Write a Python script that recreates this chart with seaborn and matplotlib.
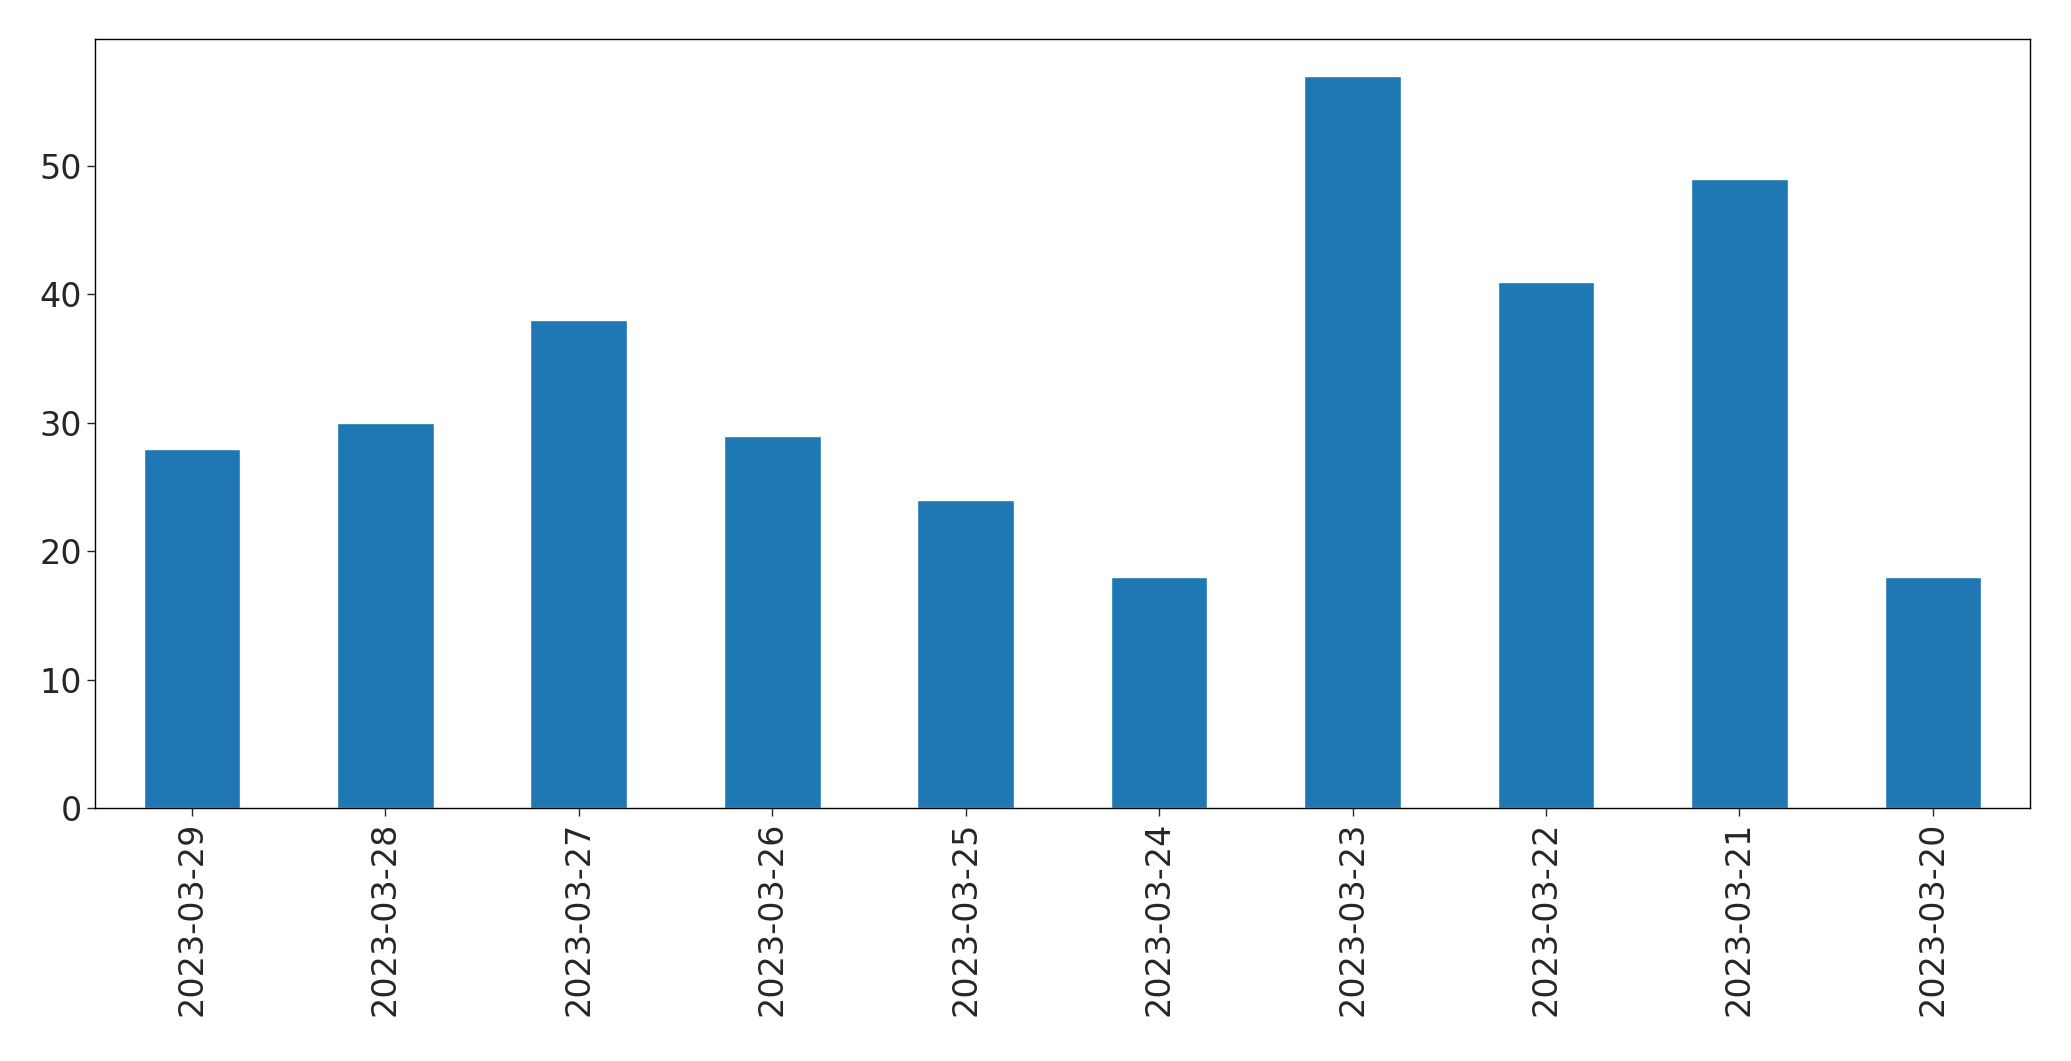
import matplotlib
matplotlib.use('Agg')
import matplotlib.pyplot as plt
import seaborn as sns
import pandas as pd

dates = ['2023-03-29', '2023-03-28', '2023-03-27', '2023-03-26', '2023-03-25',
         '2023-03-24', '2023-03-23', '2023-03-22', '2023-03-21', '2023-03-20']
counts = [28, 30, 38, 29, 24, 18, 57, 41, 49, 18]

df = pd.DataFrame({'date': dates, 'count': counts})

sns.set_style('white')
plt.rcParams['font.family'] = ['DejaVu Sans']

fig = plt.figure(figsize=(20.71, 10.61), dpi=100)
ax = fig.add_axes([0.046, 0.238, 0.934, 0.725])
sns.barplot(data=df, x='date', y='count', color='#1f77b4', saturation=1, width=0.5, ax=ax)
ax.set_xlabel('')
ax.set_ylabel('')
ax.tick_params(axis='both', labelsize=24, length=6, width=1, bottom=True, left=True)
ax.tick_params(axis='x', rotation=90)
for s in ax.spines.values():
    s.set_color('black')
    s.set_linewidth(1)
ax.set_xlim(-0.5, len(dates) - 0.5)

fig.savefig('out.png', dpi=100)
